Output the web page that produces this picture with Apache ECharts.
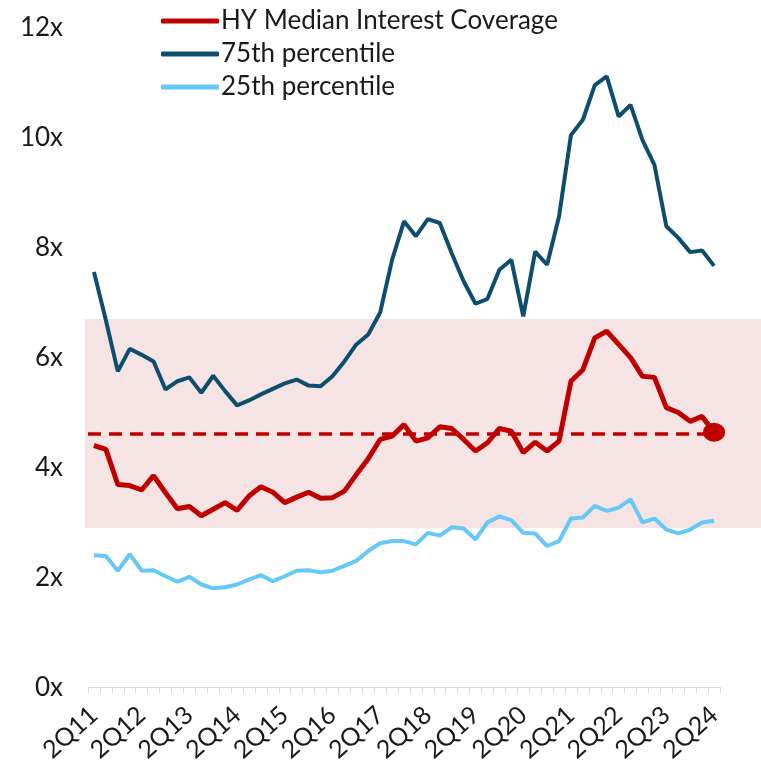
<!DOCTYPE html>
<html>
<head>
<meta charset="utf-8">
<script src="https://cdn.jsdelivr.net/npm/echarts@6/dist/echarts.min.js"></script>
<style>html,body{margin:0;padding:0;background:#fff;}#c{width:761px;height:765px;}</style>
</head>
<body>
<div id="c"></div>
<script>
var categories = ['2Q11','3Q11','4Q11','1Q12','2Q12','3Q12','4Q12','1Q13','2Q13','3Q13','4Q13','1Q14','2Q14','3Q14','4Q14','1Q15','2Q15','3Q15','4Q15','1Q16','2Q16','3Q16','4Q16','1Q17','2Q17','3Q17','4Q17','1Q18','2Q18','3Q18','4Q18','1Q19','2Q19','3Q19','4Q19','1Q20','2Q20','3Q20','4Q20','1Q21','2Q21','3Q21','4Q21','1Q22','2Q22','3Q22','4Q22','1Q23','2Q23','3Q23','4Q23','1Q24','2Q24'];
var medianValues = [4.40,4.33,3.69,3.67,3.59,3.85,3.54,3.25,3.29,3.12,3.24,3.36,3.22,3.48,3.65,3.55,3.36,3.46,3.55,3.44,3.45,3.57,3.87,4.16,4.51,4.57,4.78,4.48,4.54,4.74,4.71,4.51,4.30,4.45,4.71,4.66,4.27,4.46,4.30,4.48,5.57,5.78,6.36,6.48,6.24,6.00,5.66,5.64,5.09,5.00,4.84,4.93,4.64];
var p75Values = [7.56,6.68,5.75,6.16,6.05,5.93,5.42,5.57,5.64,5.36,5.67,5.39,5.13,5.22,5.33,5.43,5.53,5.60,5.49,5.48,5.66,5.93,6.24,6.42,6.82,7.78,8.48,8.21,8.52,8.45,7.90,7.39,6.98,7.07,7.60,7.78,6.75,7.93,7.69,8.57,10.05,10.33,10.96,11.12,10.39,10.60,9.96,9.51,8.39,8.18,7.92,7.95,7.67];
var p25Values = [2.40,2.39,2.12,2.42,2.12,2.13,2.02,1.92,2.01,1.87,1.80,1.82,1.87,1.96,2.04,1.93,2.02,2.12,2.13,2.09,2.12,2.21,2.30,2.48,2.62,2.66,2.66,2.60,2.81,2.76,2.91,2.89,2.69,3.00,3.11,3.04,2.81,2.80,2.57,2.66,3.07,3.09,3.30,3.21,3.27,3.42,3.00,3.07,2.87,2.80,2.87,3.00,3.03];
var yTicks = [0,2,4,6,8,10,12];
var bandLow = 2.91, bandHigh = 6.71;
var medianAverage = 4.62;
var seriesNames = ['HY Median Interest Coverage','75th percentile','25th percentile'];

var RED = '#C00000', DARK = '#0D4E6E', LIGHT = '#66C8F7';
var FONT = 'Lato';

var medianData = medianValues.map(function (v, i) {
  if (i === medianValues.length - 1) {
    return { value: v, symbol: 'circle', symbolSize: [22, 19], itemStyle: { color: RED } };
  }
  return v;
});

var chart = echarts.init(document.getElementById('c'), null, { renderer: 'canvas' });
chart.setOption({
  animation: false,
  backgroundColor: '#fff',
  textStyle: { fontFamily: FONT },
  legend: {
    left: 156, top: 3, orient: 'vertical', itemGap: 7,
    itemWidth: 58, itemHeight: 5, icon: 'roundRect',
    textStyle: { fontFamily: FONT, fontSize: 26, color: '#1a1a1a', padding: [0, 0, 0, -3] },
    data: seriesNames
  },
  grid: [
    { left: 88, right: 41, top: 28, bottom: 77, containLabel: false },
    { left: 85, right: 0, top: 28, bottom: 77, containLabel: false }
  ],
  xAxis: [
    {
      type: 'category', gridIndex: 0, data: categories, boundaryGap: true,
      axisLine: { show: true, lineStyle: { color: '#d9d9d9', width: 1 } },
      axisTick: { show: true, interval: 0, length: 6, lineStyle: { color: '#d9d9d9' } },
      axisLabel: { interval: 3, rotate: 42, margin: 24, fontFamily: FONT, fontSize: 25, color: '#1a1a1a' },
      splitLine: { show: false }
    },
    { type: 'value', gridIndex: 1, min: 0, max: 1, show: false }
  ],
  yAxis: [
    {
      type: 'value', gridIndex: 0, min: yTicks[0], max: yTicks[yTicks.length - 1], interval: 2,
      axisLine: { show: false }, axisTick: { show: false }, splitLine: { show: false },
      axisLabel: { formatter: '{value}x', margin: 25, fontFamily: FONT, fontSize: 26, color: '#1a1a1a' }
    },
    { type: 'value', gridIndex: 1, min: yTicks[0], max: yTicks[yTicks.length - 1], show: false }
  ],
  series: [
    {
      type: 'line', xAxisIndex: 1, yAxisIndex: 1, z: 0, silent: true,
      data: [[0, bandLow], [1, bandLow]], symbol: 'none', lineStyle: { opacity: 0 },
      markArea: { silent: true, itemStyle: { color: '#F6E4E5' }, data: [[{ yAxis: bandLow }, { yAxis: bandHigh }]] }
    },
    {
      name: seriesNames[2], type: 'line', data: p25Values, symbol: 'none', z: 2,
      lineStyle: { color: LIGHT, width: 4 }, itemStyle: { color: LIGHT }
    },
    {
      name: seriesNames[1], type: 'line', data: p75Values, symbol: 'none', z: 3,
      lineStyle: { color: DARK, width: 4 }, itemStyle: { color: DARK }
    },
    {
      name: seriesNames[0], type: 'line', data: medianData, symbol: 'none', z: 4,
      lineStyle: { color: RED, width: 5 }, itemStyle: { color: RED },
      markLine: {
        silent: true, symbol: 'none', label: { show: false },
        lineStyle: { color: RED, width: 3.5, type: [13, 8] },
        data: [{ yAxis: medianAverage }]
      }
    }
  ]
});
</script>
</body>
</html>
